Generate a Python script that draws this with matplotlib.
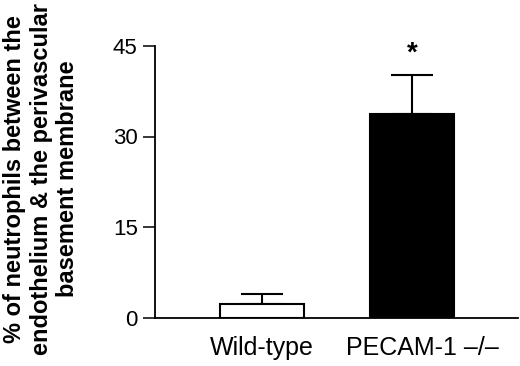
import matplotlib
matplotlib.use("Agg")
import matplotlib.pyplot as plt
from matplotlib.transforms import ScaledTranslation

# Data
categories = ["Wild-type", "PECAM-1 \u2013/\u2013"]
values = [2.2, 33.7]
errors = [1.7, 6.5]
bar_colors = ["white", "black"]
yticks = [0, 15, 30, 45]
star_value = 43.7

plt.rcParams['font.family'] = ['Liberation Sans', 'DejaVu Sans']

fig = plt.figure(figsize=(5.2, 3.66), dpi=100)
ax = fig.add_axes([155/520, 1 - 317.5/366, 363/520, 271.5/366])

x = list(range(len(categories)))
ax.bar(x, values, width=0.56, color=bar_colors, edgecolor="black", linewidth=1.5, zorder=2)
ax.errorbar(x, values, yerr=[[0]*len(errors), errors], fmt="none", ecolor="black",
            elinewidth=1.5, capsize=14.8, capthick=1.5, zorder=1)
ax.text(1, star_value, "*", ha="center", va="center", fontsize=20, fontweight="bold", clip_on=False)

ax.set_xlim(-0.713, 1.707)
ax.set_ylim(0, 45)
ax.set_yticks(yticks)
ax.set_yticklabels([str(t) for t in yticks], fontsize=16)
ax.set_xticks(x)
ax.set_xticklabels(categories, fontsize=18)
ax.tick_params(axis="x", length=0, pad=13)
ax.tick_params(axis="y", length=9, width=1.1, pad=3.5, direction="out")
lbls = ax.get_xticklabels()
lbls[1].set_transform(lbls[1].get_transform() + ScaledTranslation(10/100, 0, fig.dpi_scale_trans))

for s in ["top", "right"]:
    ax.spines[s].set_visible(False)
ax.spines["left"].set_linewidth(1.3)
ax.spines["bottom"].set_linewidth(1.3)

ax.set_ylabel("% of neutrophils between the\nendothelium & the perivascular\nbasement membrane",
              fontsize=17, fontweight="bold", linespacing=1.18)
ax.yaxis.set_label_coords(-0.21, 0.51)

fig.savefig("out.png", dpi=100)
